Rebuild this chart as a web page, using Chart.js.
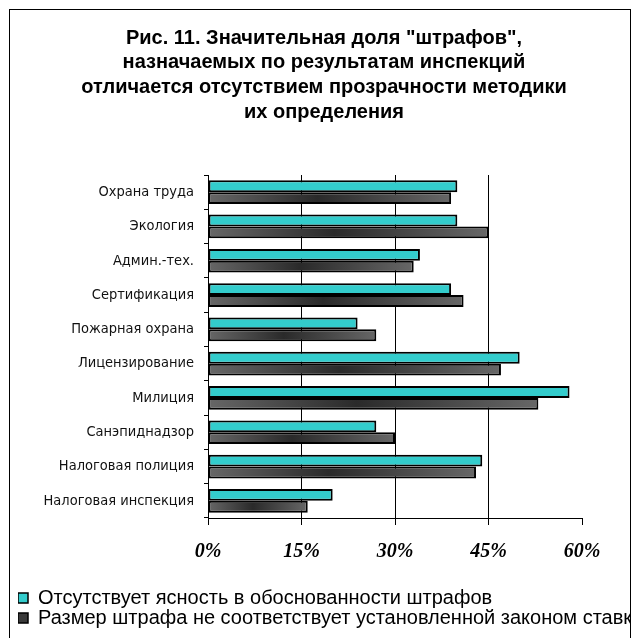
<!DOCTYPE html>
<html>
    <head>
        <title>Рис. 11</title>
        <script src="https://cdn.jsdelivr.net/npm/chart.js@4.4.1/dist/chart.umd.min.js">
        </script>
        <style>
            body { margin: 0; background: #fff; }
            #frame {
                position: absolute; left: 9px; top: 9px;
                width: 620px; height: 640px;
                border-top: 1px solid #000;
                border-left: 1px solid #000;
                border-right: 1px solid #000;
            }
        </style>
    </head>
    <body>
        <div id="frame">
            <canvas id="myChart" width="620" height="628"></canvas>
        </div>

        <script>
            const categories = ['Охрана труда', 'Экология', 'Админ.-тех.', 'Сертификация',
                'Пожарная охрана', 'Лицензирование', 'Милиция', 'Санэпиднадзор',
                'Налоговая полиция', 'Налоговая инспекция'];
            const unclear = [40, 40, 34, 39, 24, 50, 58, 27, 44, 20];
            const wrongSize = [39, 45, 33, 41, 27, 47, 53, 30, 43, 16];
            const xTicks = [0, 15, 30, 45, 60];

            const titleLines = ['Рис. 11. Значительная доля "штрафов",',
                'назначаемых по результатам инспекций',
                'отличается отсутствием прозрачности методики',
                'их определения'];

            // grey bar: dark in the middle, lighter at both ends
            function greyFill(c) {
                if (c.type !== 'data' || !c.chart.chartArea) return '#3a3a3a';
                const xs = c.chart.scales.x;
                const x0 = xs.getPixelForValue(0);
                const x1 = xs.getPixelForValue(c.dataset.data[c.dataIndex]);
                const g = c.chart.ctx.createLinearGradient(x0, 0, x1, 0);
                g.addColorStop(0, '#676767');
                g.addColorStop(0.45, '#2a2a2a');
                g.addColorStop(1, '#676767');
                return g;
            }

            const ctx = document.getElementById('myChart');
            const myChart = new Chart(ctx, {
                type: 'bar',
                data: {
                    labels: categories,
                    datasets: [{
                        label: 'Отсутствует ясность в обоснованности штрафов',
                        data: unclear,
                        backgroundColor: '#33CCCC',
                        borderColor: '#000',
                        borderWidth: 2,
                        borderSkipped: false
                    }, {
                        label: 'Размер штрафа не соответствует установленной законом ставке',
                        data: wrongSize,
                        backgroundColor: greyFill,
                        borderColor: '#000',
                        borderWidth: 2,
                        borderSkipped: false
                    }]
                },
                options: {
                    indexAxis: 'y',
                    responsive: false,
                    animation: false,
                    categoryPercentage: 0.69,
                    barPercentage: 1,
                    layout: { padding: { left: 8, right: 0, top: 0, bottom: 0 } },
                    plugins: {
                        title: {
                            display: true,
                            text: titleLines,
                            color: '#000',
                            font: { family: 'Liberation Sans', size: 20, weight: 'bold', lineHeight: 1.24 },
                            padding: { top: 15.6, bottom: 50.2 }
                        },
                        legend: {
                            position: 'bottom',
                            align: 'start',
                            labels: {
                                color: '#000',
                                boxWidth: 10,
                                boxHeight: 10,
                                padding: 0,
                                font: { family: 'Liberation Sans', size: 20 },
                                generateLabels: function(chart) {
                                    const fills = ['#33CCCC', '#3a3a3a'];
                                    return chart.data.datasets.map(function(ds, i) {
                                        return { text: ds.label, fillStyle: fills[i], strokeStyle: '#000',
                                            lineWidth: 1.5, datasetIndex: i, fontColor: '#000' };
                                    });
                                }
                            }
                        },
                        tooltip: { enabled: false }
                    },
                    scales: {
                        x: {
                            min: 0,
                            max: 60,
                            afterBuildTicks: function(axis) {
                                axis.ticks = xTicks.map(function(v) { return { value: v }; });
                            },
                            afterFit: function(axis) { axis.height = 70; },
                            border: { color: '#000', width: 1 },
                            grid: {
                                color: function(c) { return c.tick && c.tick.value === 60 ? 'rgba(0,0,0,0)' : '#000'; },
                                tickColor: '#000',
                                tickLength: 7
                            },
                            ticks: {
                                color: '#000',
                                padding: 15,
                                font: { family: 'Liberation Serif', size: 20, weight: 'bold', style: 'italic' },
                                callback: function(v) { return v + '%'; }
                            }
                        },
                        y: {
                            afterFit: function(axis) { axis.width = 190; },
                            border: { color: '#000', width: 1 },
                            grid: {
                                offset: true,
                                drawOnChartArea: false,
                                tickColor: '#000',
                                tickLength: 4
                            },
                            ticks: {
                                color: '#111',
                                padding: 10,
                                font: { family: "'DejaVu Sans Condensed', 'DejaVu Sans'", size: 14.5 }
                            }
                        },
                        // empty space on the right of the plot
                        yRight: {
                            type: 'category',
                            position: 'right',
                            afterFit: function(axis) { axis.width = 48; },
                            grid: { display: false },
                            border: { display: false },
                            ticks: { display: false }
                        }
                    }
                }
            });
        </script>
    </body>
</html>
